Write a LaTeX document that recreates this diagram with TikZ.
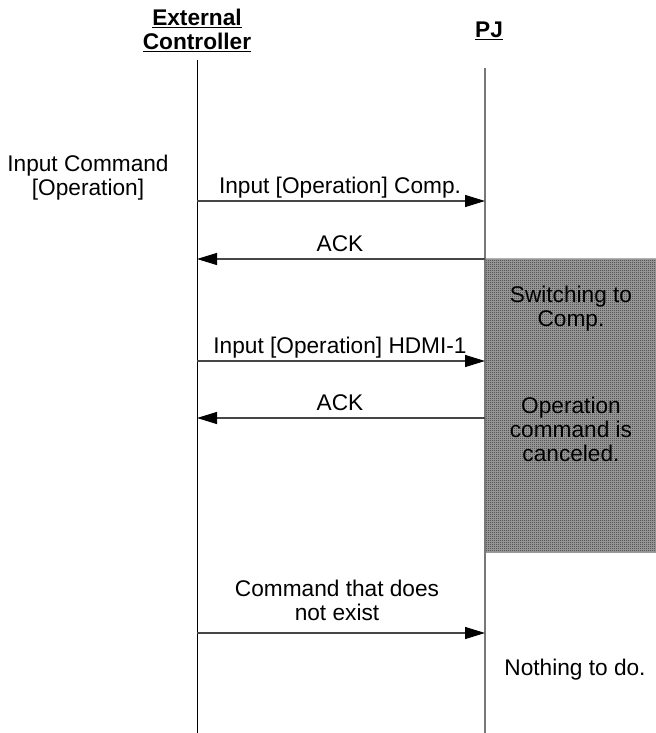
\documentclass[tikz,border=0pt]{standalone}
\usepackage{fontspec}
\setmainfont{Liberation Sans}
\usetikzlibrary{arrows.meta,patterns}
\definecolor{boxlight}{RGB}{165,165,165}
\definecolor{boxdark}{RGB}{45,45,45}
\definecolor{lifegray}{RGB}{120,120,120}
\definecolor{msggray}{RGB}{70,70,70}
% fine checkerboard texture for the busy interval
\pgfdeclarepatternformonly{finechecker}{\pgfpointorigin}{\pgfpoint{1.5pt}{1.5pt}}{\pgfpoint{1.5pt}{1.5pt}}{%
  \pgfpathrectangle{\pgfpointorigin}{\pgfpoint{0.75pt}{0.75pt}}%
  \pgfpathrectangle{\pgfpoint{0.75pt}{0.75pt}}{\pgfpoint{0.75pt}{0.75pt}}%
  \pgfusepath{fill}}
\tikzset{
  txt/.style={inner sep=0pt, font=\fontsize{17}{18}\selectfont, align=center},
  hdr/.style={txt, font=\fontsize{17}{18}\selectfont\bfseries},
  msg/.style={draw=msggray, line width=0.9pt, -{Triangle[length=15pt,width=9pt,black]}},
}
\begin{document}
\begin{tikzpicture}[x=0.75pt, y=-0.75pt]
\useasboundingbox (0,0) rectangle (656,733);

% processing box on the PJ side
\fill[boxlight] (486,258) rectangle (656,552);
\fill[pattern=finechecker, pattern color=boxdark] (486,258) rectangle (656,552);
\draw[gray!60, line width=0.6pt] (486,258) -- (656,258);
\draw[gray!80, line width=0.6pt] (486,552) -- (656,552);

% participants (multi-line nodes sit on their last baseline)
\node[hdr, anchor=base] (hdrEC) at (197,49) {\underline{External}\\\underline{Controller}};
\node[hdr, anchor=base] (hdrPJ) at (489,37) {\underline{PJ}};

% lifelines
\coordinate (ecTop) at (197,60);
\coordinate (ecBot) at (197,733);
\coordinate (pjTop) at (485,68);
\coordinate (pjBot) at (485,733);
\draw[line width=0.75pt, black] (ecTop) -- (ecBot);
\draw[line width=1.1pt, lifegray] (pjTop) -- (pjBot);

% message end points
\coordinate (ec1) at (197,201); \coordinate (pj1) at (485,201);
\coordinate (ec2) at (197,259); \coordinate (pj2) at (485,259);
\coordinate (ec3) at (197,361); \coordinate (pj3) at (485,361);
\coordinate (ec4) at (197,418); \coordinate (pj4) at (485,418);
\coordinate (ec5) at (197,633); \coordinate (pj5) at (485,633);

% messages
\draw[msg] (ec1) -- (pj1);
\draw[msg] (pj2) -- (ec2);
\draw[msg] (ec3) -- (pj3);
\draw[msg] (pj4) -- (ec4);
\draw[msg] (ec5) -- (pj5);

% message labels
\node[txt, anchor=base] (lbl1) at (340,193) {Input [Operation] Comp.};
\node[txt, anchor=base] (lbl2) at (340,251) {ACK};
\node[txt, anchor=base] (lbl3) at (340,353) {Input [Operation] HDMI-1};
\node[txt, anchor=base] (lbl4) at (340,410) {ACK};
\node[txt, anchor=base] (lbl5) at (337,620) {Command that does\\not exist};

% notes
\node[txt, anchor=base] (cmd) at (88,195) {Input Command\\{[Operation]}};
\node[txt, anchor=base] (sw) at (571,326) {Switching to\\Comp.};
\node[txt, anchor=base] (cancel) at (571,461) {Operation\\command is\\canceled.};
\node[txt, anchor=base] (nothing) at (575,675) {Nothing to do.};
\end{tikzpicture}
\end{document}
